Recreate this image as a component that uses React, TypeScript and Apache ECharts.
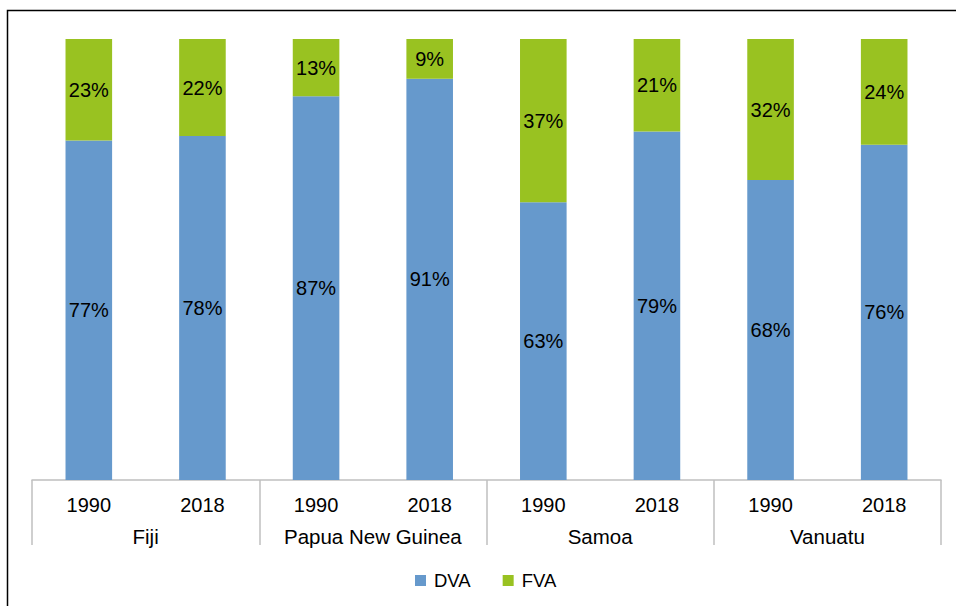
import React, { useEffect, useRef } from "react";
import * as echarts from "echarts";

const years = ["1990", "2018", "1990", "2018", "1990", "2018", "1990", "2018"];
const countries = ["Fiji", "Papua New Guinea", "Samoa", "Vanuatu"];
const dva = [77, 78, 87, 91, 63, 79, 68, 76];
const fva = [23, 22, 13, 9, 37, 21, 32, 24];

const FONT = "'Liberation Sans', Arial, sans-serif";

export default function App() {
  const ref = useRef<HTMLDivElement>(null);
  useEffect(() => {
    if (!ref.current) return;
    const chart = echarts.init(ref.current, null, { renderer: "svg" });
    const label = {
      show: true,
      position: "inside",
      formatter: "{c}%",
      color: "#000",
      fontSize: 20,
      fontFamily: FONT,
    };
    chart.setOption({
      animation: false,
      backgroundColor: "#fff",
      textStyle: { fontFamily: FONT },
      graphic: [
        {
          type: "rect",
          shape: { x: 7.5, y: 10.5, width: 960, height: 620 },
          style: { fill: "none", stroke: "#000", lineWidth: 1.5 },
          silent: true,
          z: 100,
        },
      ],
      grid: { left: 32, right: 15, top: 39, bottom: 126, containLabel: false },
      legend: {
        top: 566,
        left: 410,
        itemWidth: 11,
        itemHeight: 11,
        itemGap: 32,
        icon: "rect",
        textStyle: { fontSize: 18.5, color: "#000", fontFamily: FONT, padding: [0, 0, 0, 3] },
        data: ["DVA", "FVA"],
      },
      xAxis: [
        {
          type: "category",
          data: years,
          position: "bottom",
          axisLine: { show: true, lineStyle: { color: "#bfbfbf", width: 1.5 } },
          axisTick: { show: false },
          axisLabel: { interval: 0, color: "#000", fontSize: 20, margin: 15, fontFamily: FONT },
        },
        {
          type: "category",
          data: countries,
          position: "bottom",
          axisLine: { show: false },
          axisTick: {
            show: true,
            interval: 0,
            length: 65,
            lineStyle: { color: "#bfbfbf", width: 1.5 },
          },
          axisLabel: { interval: 0, color: "#000", fontSize: 20.5, margin: 46, fontFamily: FONT },
        },
      ],
      yAxis: { type: "value", min: 0, max: 100, show: false },
      series: [
        {
          name: "DVA",
          type: "bar",
          stack: "total",
          data: dva,
          barWidth: "41%",
          itemStyle: { color: "#6699cc" },
          label,
        },
        {
          name: "FVA",
          type: "bar",
          stack: "total",
          data: fva,
          barWidth: "41%",
          itemStyle: { color: "#99c221" },
          label,
        },
      ],
    });
    return () => chart.dispose();
  }, []);
  return (
    <div
      ref={ref}
      style={{ position: "absolute", left: 0, top: 0, width: 956, height: 606 }}
    />
  );
}
